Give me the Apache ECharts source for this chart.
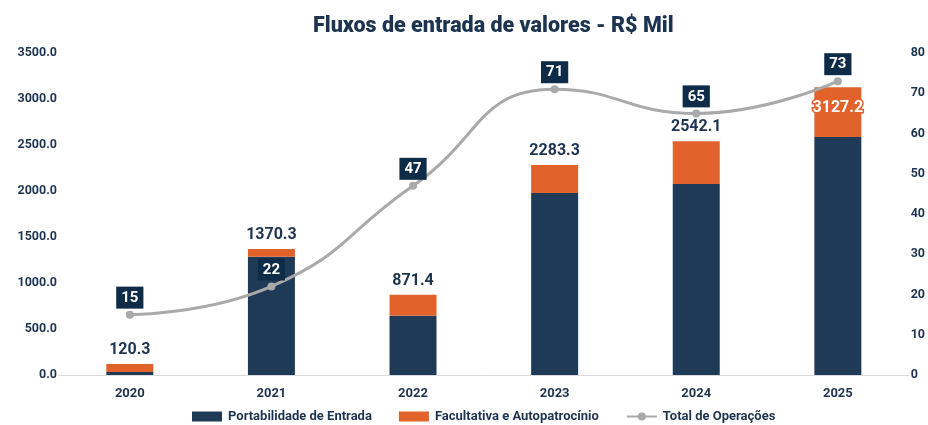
<!DOCTYPE html>
<html><head><meta charset="utf-8">
<script src="https://cdn.jsdelivr.net/npm/echarts@6/dist/echarts.min.js"></script>
<style>html,body{margin:0;padding:0;background:#fff}#c{width:928px;height:425px}</style>
</head><body><div id="c"></div>
<script>
const categories = ['2020','2021','2022','2023','2024','2025'];
const portabilidade = [32, 1285, 645, 1978, 2076, 2587];
const facultativa = [88.3, 85.3, 226.4, 305.3, 466.1, 540.2];
const totals = [120.3, 1370.3, 871.4, 2283.3, 2542.1, 3127.2];
const operacoes = [15, 22, 47, 71, 65, 73];
const leftTicks = {min: 0, max: 3500, interval: 500};
const rightTicks = {min: 0, max: 80, interval: 10};

const navy = '#1f3a56', orange = '#e2622b', gray = '#a9a9a9', txt = '#1d3450';
const chart = echarts.init(document.getElementById('c'));
chart.setOption({
  animation: false,
  title: {text: 'Fluxos de entrada de valores - R$ Mil', left: 308, top: 11,
    textStyle: {fontFamily: 'Roboto', fontWeight: 900, fontSize: 21.5, color: txt}},
  grid: {left: 59, right: 14, top: 53, bottom: 50, containLabel: false},
  legend: {top: 405, left: 187, itemGap: 27, itemWidth: 30, itemHeight: 10,
    textStyle: {fontFamily: 'Roboto', fontWeight: 'bold', fontSize: 13, color: txt, padding: [0, 0, 0, 1]},
    data: [{name: 'Portabilidade de Entrada', icon: 'rect'}, {name: 'Facultativa e Autopatrocínio', icon: 'rect'}, {name: 'Total de Operações'}]},
  xAxis: {type: 'category', data: categories,
    axisLine: {lineStyle: {color: '#d9d9d9'}}, axisTick: {show: false},
    axisLabel: {fontFamily: 'Roboto', fontWeight: 'bold', fontSize: 13, color: txt, margin: 12}},
  yAxis: [
    {type: 'value', min: leftTicks.min, max: leftTicks.max, interval: leftTicks.interval, splitLine: {show: false},
      axisLabel: {fontFamily: 'Roboto', fontWeight: 'bold', fontSize: 12.5, color: txt, margin: 2,
        formatter: v => v.toFixed(1)}},
    {type: 'value', min: rightTicks.min, max: rightTicks.max, interval: rightTicks.interval, splitLine: {show: false},
      axisLabel: {fontFamily: 'Roboto', fontWeight: 'bold', fontSize: 12.5, color: txt, margin: 2}}
  ],
  series: [
    {name: 'Portabilidade de Entrada', type: 'bar', stack: 't', data: portabilidade, barWidth: 47,
      itemStyle: {color: navy}},
    {name: 'Facultativa e Autopatrocínio', type: 'bar', stack: 't', barWidth: 47,
      itemStyle: {color: orange},
      data: facultativa.map((v, i) => {
        const last = i === facultativa.length - 1;
        return {value: v, label: last ? {position: 'insideTop', distance: 13, color: '#fff',
          textBorderColor: orange, textBorderWidth: 3} : {}};
      }),
      label: {show: true, position: 'top', distance: 6, fontFamily: 'Roboto', fontWeight: 'bold', fontSize: 16,
        color: txt, formatter: p => totals[p.dataIndex].toFixed(1)}},
    {name: 'Total de Operações', type: 'line', yAxisIndex: 1, data: operacoes, smooth: 0.5,
      symbol: 'circle', symbolSize: 8, z: 5,
      lineStyle: {color: gray, width: 3}, itemStyle: {color: gray},
      label: {show: true, position: 'top', distance: 2, backgroundColor: '#0e2c48', color: '#fff',
        fontFamily: 'Roboto', fontWeight: 'bold', fontSize: 15, padding: [4, 5, 3, 5]}}
  ]
});
</script></body></html>
